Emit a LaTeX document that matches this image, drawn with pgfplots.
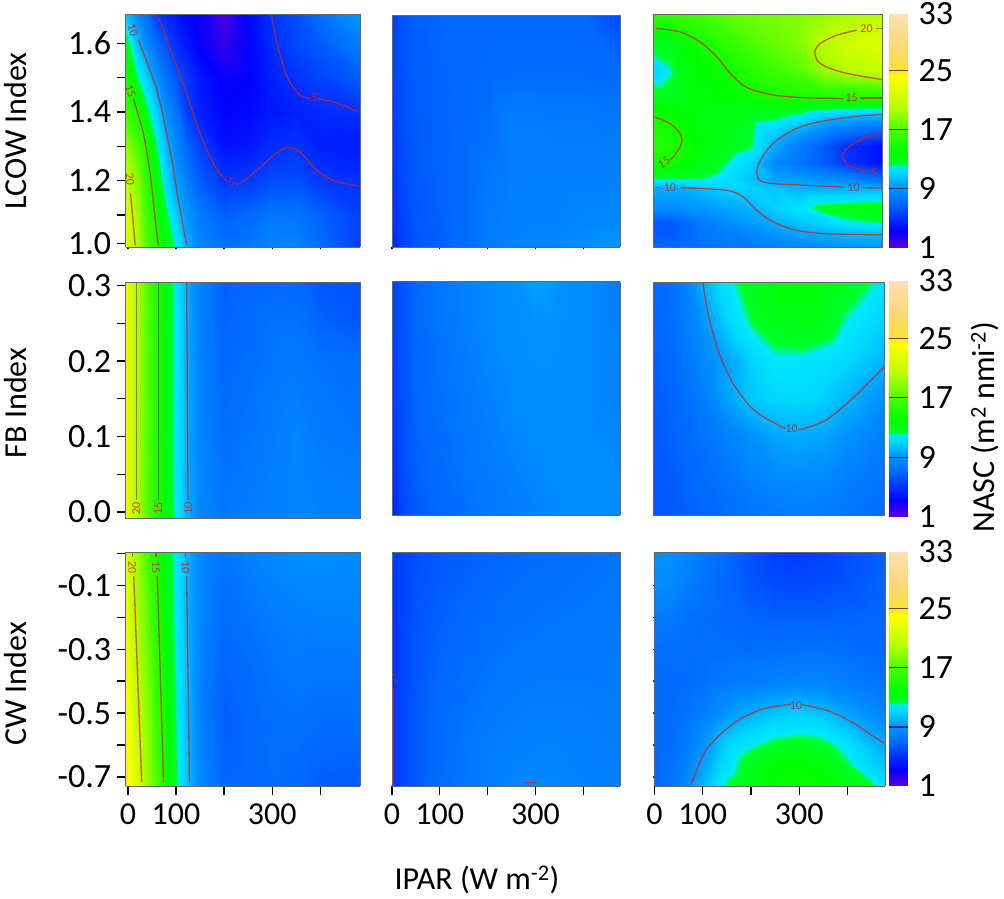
\documentclass[border=0pt]{standalone}
\usepackage{fontspec}
\setmainfont{Carlito}
\usepackage{pgfplots}
\usepackage{pgfplotstable}
\pgfplotsset{compat=1.18}
\definecolor{ctc}{RGB}{205,35,35}
\pgfplotsset{
 colormap={nasc}{rgb255(10)=(95,0,215) rgb255(32)=(0,0,255) rgb255(50)=(0,50,255) rgb255(70)=(0,105,255) rgb255(90)=(0,145,255) rgb255(100)=(0,175,255) rgb255(111)=(0,215,255) rgb255(120)=(0,232,255) rgb255(124)=(0,255,40) rgb255(140)=(0,255,0) rgb255(166)=(60,255,0) rgb255(200)=(180,255,0) rgb255(242)=(255,255,0) rgb255(250)=(255,225,50) rgb255(280)=(255,215,110) rgb255(330)=(250,225,185)},
 hm/.style={scale only axis,anchor=south west,view={0}{90},colormap name=nasc,point meta min=1,point meta max=33,axis line style={draw=black!60,line width=.6pt},tick style={black,line width=1.3pt},tick align=outside,major tick length=9pt,xtick pos=bottom,ytick pos=left,xticklabel style={font=\fontsize{32}{36}\selectfont,yshift=-5pt},yticklabel style={font=\fontsize{34}{38}\selectfont,xshift=-2pt},xtick={0,100,200,300,400},xticklabels={},ytick=\empty,xtick=\empty},
 xt/.style={xtick={0,100,200,300,400},xticklabels={0,100,,300,}},
 map/.style={surf,shader=interp,mesh/ordering=x varies},
 ct/.style={no markers,smooth,color=ctc,opacity=.75,line width=1.3pt},
 cb/.style={hm,width=19pt,hide x axis,axis line style={draw=none},major tick length=0pt,xmin=0,xmax=1,ymin=1,ymax=32.7,ytick={1,9,17,25,32.7},yticklabels={1,9,17,25,33},ytick pos=right,yticklabel pos=right,yticklabel style={xshift=9pt}},
 ctk/.style={no markers,color=black,opacity=.65,line width=1.2pt},
}
\tikzset{ctl/.style={text=ctc,text opacity=.85,font=\fontsize{12}{13}\selectfont,inner sep=0pt}}
\pgfplotstableread{
x y z
0 1 1
1 1 1
0 3.2 3.2
1 3.2 3.2
0 5 5
1 5 5
0 7 7
1 7 7
0 9 9
1 9 9
0 10 10
1 10 10
0 11.1 11.1
1 11.1 11.1
0 12 12
1 12 12
0 12.4 12.4
1 12.4 12.4
0 14 14
1 14 14
0 16.6 16.6
1 16.6 16.6
0 20 20
1 20 20
0 24.2 24.2
1 24.2 24.2
0 25 25
1 25 25
0 28 28
1 28 28
0 32.7 32.7
1 32.7 32.7
}\cbdata
\begin{document}
\begin{tikzpicture}[x=1pt,y=1pt]
\useasboundingbox (0,0) rectangle (1004,899);
% ---- row 1 col 1
\begin{axis}[hm,at={(125.6pt,651.5pt)},width=234.5pt,height=233.5pt,xmin=-5,xmax=483,ymin=1.005,ymax=1.685,
 ytick={1.0167,1.1,1.2,1.3,1.4,1.5,1.6},yticklabels={1.0,,1.2,,1.4,,1.6},xtick={0,100,200,300,400},xtick style={/pgfplots/major tick length=2pt}]
\addplot3[map,mesh/cols=14] coordinates {
(-5,1.685,10.5)(20,1.685,8.5)(40,1.685,7)(60,1.685,5.2)(80,1.685,4.5)(100,1.685,4)(120,1.685,3.5)(150,1.685,3)(200,1.685,1.5)(250,1.685,3.5)(300,1.685,5)(350,1.685,6)(400,1.685,7.5)(483,1.685,9.5)
(-5,1.6,13)(20,1.6,10.2)(40,1.6,8.5)(60,1.6,7)(80,1.6,6)(100,1.6,4.8)(120,1.6,4)(150,1.6,3)(200,1.6,2)(250,1.6,3.2)(300,1.6,4.8)(350,1.6,5.8)(400,1.6,6.5)(483,1.6,8)
(-5,1.5,15)(20,1.5,12.2)(40,1.5,11)(60,1.5,9)(80,1.5,7.5)(100,1.5,6.2)(120,1.5,5.2)(150,1.5,4)(200,1.5,3)(250,1.5,3.2)(300,1.5,4.4)(350,1.5,5)(400,1.5,5.6)(483,1.5,6.5)
(-5,1.4,16.5)(20,1.4,15)(40,1.4,12.6)(60,1.4,10.8)(80,1.4,9)(100,1.4,7.5)(120,1.4,5.5)(150,1.4,4.3)(200,1.4,3.3)(250,1.4,3.5)(300,1.4,4)(350,1.4,4.4)(400,1.4,4.7)(483,1.4,5)
(-5,1.3,19)(20,1.3,17)(40,1.3,15)(60,1.3,12.2)(80,1.3,10.3)(100,1.3,8.5)(120,1.3,7)(150,1.3,5.5)(200,1.3,3.8)(250,1.3,4)(300,1.3,4.8)(350,1.3,5)(400,1.3,4.3)(483,1.3,4.2)
(-5,1.2,20.5)(20,1.2,18.5)(40,1.2,15.8)(60,1.2,13.5)(80,1.2,11.2)(100,1.2,9.5)(120,1.2,8.2)(150,1.2,6.5)(200,1.2,5.1)(250,1.2,5.3)(300,1.2,5.9)(350,1.2,6)(400,1.2,5.3)(483,1.2,4.9)
(-5,1.1,22)(20,1.1,19.2)(40,1.1,16.5)(60,1.1,14.5)(80,1.1,12.6)(100,1.1,10.8)(120,1.1,9.3)(150,1.1,7.8)(200,1.1,6.6)(250,1.1,7)(300,1.1,7.6)(350,1.1,7.6)(400,1.1,6.8)(483,1.1,5.5)
(-5,1.005,22.5)(20,1.005,19.6)(40,1.005,17)(60,1.005,15.2)(80,1.005,13.4)(100,1.005,12)(120,1.005,10.2)(150,1.005,8.5)(200,1.005,7.5)(250,1.005,7.8)(300,1.005,8.5)(350,1.005,8.4)(400,1.005,7.2)(483,1.005,5.5)
};
\addplot3[ct] coordinates {(63,1.677,33)(94,1.56,33)(122,1.453,33)(150,1.337,33)(178,1.249,33)(205,1.198,33)};
\addplot3[ct] coordinates {(222,1.193,33)(233,1.191,33)(268,1.23,33)(303,1.273,33)(331,1.296,33)(358,1.283,33)(393,1.23,33)(428,1.2,33)(480,1.184,33)};
\addplot3[ct] coordinates {(299,1.682,33)(310,1.6,33)(331,1.502,33)(358,1.448,33)(380,1.44,33)};
\addplot3[ct] coordinates {(396,1.438,33)(428,1.429,33)(480,1.4,33)};
\addplot3[ct] coordinates {(21.5,1.609,33)(60,1.463,33)(87.5,1.288,33)(105,1.142,33)(122,1.011,33)};
\addplot3[ct] coordinates {(11,1.439,33)(32,1.337,33)(46,1.22,33)(56,1.094,33)(63,1.011,33)};
\addplot3[ct] coordinates {(5.5,1.162,33)(15,1.011,33)};
\node[ctl,rotate=-72] at (axis cs:10,1.638,33) {10};
\node[ctl,rotate=-72] at (axis cs:5,1.46,33) {15};
\node[ctl,rotate=-85] at (axis cs:4,1.205,33) {20};
\node[ctl] at (axis cs:215,1.195,33) {5};
\node[ctl] at (axis cs:388,1.44,33) {5};
\end{axis}
% ---- row 1 col 2
\begin{axis}[hm,at={(392pt,651.5pt)},width=228pt,height=232pt,xmin=0,xmax=477,ymin=1.005,ymax=1.68,xtick={0,100,200,300,400},xtick style={/pgfplots/major tick length=2pt}]
\addplot3[map,mesh/cols=11] coordinates {
(0,1.685,5.5)(25,1.685,6.3)(50,1.685,6.6)(100,1.685,6.9)(150,1.685,7)(200,1.685,7)(250,1.685,7)(300,1.685,7)(350,1.685,7)(400,1.685,6.9)(477,1.685,5.8)
(0,1.5,5.5)(25,1.5,6.2)(50,1.5,6.6)(100,1.5,6.8)(150,1.5,7)(200,1.5,7.1)(250,1.5,7.2)(300,1.5,7.2)(350,1.5,7.2)(400,1.5,7.2)(477,1.5,7.2)
(0,1.38,5.3)(25,1.38,6.1)(50,1.38,6.5)(100,1.38,6.8)(150,1.38,7)(200,1.38,7.3)(250,1.38,8)(300,1.38,8)(350,1.38,7.9)(400,1.38,7.9)(477,1.38,7.7)
(0,1.2,5.2)(25,1.2,5.9)(50,1.2,6.4)(100,1.2,6.8)(150,1.2,7)(200,1.2,7.7)(250,1.2,8.1)(300,1.2,8.2)(350,1.2,8.2)(400,1.2,8.2)(477,1.2,8.2)
(0,1.08,5)(25,1.08,5.7)(50,1.08,6.3)(100,1.08,6.7)(150,1.08,7.1)(200,1.08,7.9)(250,1.08,8.2)(300,1.08,8.3)(350,1.08,8.3)(400,1.08,8.5)(477,1.08,8.6)
(0,1.005,4.5)(25,1.005,5.5)(50,1.005,6.2)(100,1.005,6.6)(150,1.005,7.2)(200,1.005,7.9)(250,1.005,8.3)(300,1.005,8.4)(350,1.005,8.5)(400,1.005,9)(477,1.005,9.2)
};
\end{axis}
% ---- row 1 col 3
\begin{axis}[hm,at={(653.3pt,651.5pt)},width=229.2pt,height=233.5pt,xmin=-2.5,xmax=472,ymin=1.005,ymax=1.685]
\addplot3[map,mesh/cols=11] coordinates {
(-3,1.685,15.8)(30,1.685,16)(60,1.685,16.3)(100,1.685,16.8)(150,1.685,17.5)(200,1.685,18)(250,1.685,18.2)(300,1.685,18.5)(350,1.685,19)(400,1.685,19.5)(480,1.685,20)
(-3,1.6,12.8)(30,1.6,13)(60,1.6,14)(100,1.6,14.9)(150,1.6,16)(200,1.6,17)(250,1.6,17.8)(300,1.6,18.5)(350,1.6,20.2)(400,1.6,21.5)(480,1.6,22.5)
(-3,1.52,11.3)(30,1.52,12)(60,1.52,13.5)(100,1.52,14)(150,1.52,14.5)(200,1.52,15.6)(250,1.52,16.5)(300,1.52,17.3)(350,1.52,19.2)(400,1.52,20.2)(480,1.52,21)
(-3,1.44,13)(30,1.44,13)(60,1.44,13.5)(100,1.44,13.6)(150,1.44,14)(200,1.44,14.4)(250,1.44,14.9)(300,1.44,15)(350,1.44,15)(400,1.44,15)(480,1.44,15)
(-3,1.385,15)(30,1.385,14.5)(60,1.385,14)(100,1.385,13.5)(150,1.385,13.2)(200,1.385,12.7)(250,1.385,12.5)(300,1.385,11.7)(350,1.385,10.5)(400,1.385,10.2)(480,1.385,9.9)
(-3,1.3,15.5)(30,1.3,15.3)(60,1.3,14.8)(100,1.3,13.8)(150,1.3,13)(200,1.3,12.4)(250,1.3,9.8)(300,1.3,8)(350,1.3,6.5)(400,1.3,4.9)(480,1.3,3.5)
(-3,1.25,14.7)(30,1.25,14.8)(60,1.25,14.3)(100,1.25,13.2)(150,1.25,12.2)(200,1.25,11)(250,1.25,8.5)(300,1.25,7.5)(350,1.25,6.5)(400,1.25,5)(480,1.25,3.7)
(-3,1.205,12.2)(30,1.205,12.2)(60,1.205,12.2)(100,1.205,12.2)(150,1.205,11.6)(200,1.205,10.4)(250,1.205,9.6)(300,1.205,9.5)(350,1.205,9)(400,1.205,8.5)(480,1.205,7)
(-3,1.178,10)(30,1.178,10)(60,1.178,10)(100,1.178,10.6)(150,1.178,11)(200,1.178,11)(250,1.178,10.6)(300,1.178,10.1)(350,1.178,10)(400,1.178,10)(480,1.178,10)
(-3,1.12,8.8)(30,1.12,8.8)(60,1.12,9)(100,1.12,9.2)(150,1.12,9.7)(200,1.12,10.1)(250,1.12,11)(300,1.12,11.6)(350,1.12,12.8)(400,1.12,13)(480,1.12,13.3)
(-3,1.08,6.5)(30,1.08,6.3)(60,1.08,6.8)(100,1.08,8)(150,1.08,8.8)(200,1.08,9.5)(250,1.08,10)(300,1.08,10.7)(350,1.08,11.2)(400,1.08,12)(480,1.08,12.4)
(-3,1.05,6.5)(30,1.05,6.4)(60,1.05,6.9)(100,1.05,7.7)(150,1.05,8.2)(200,1.05,8.7)(250,1.05,9.3)(300,1.05,9.8)(350,1.05,10.1)(400,1.05,10.5)(480,1.05,10.6)
(-3,1.005,7)(30,1.005,7)(60,1.005,7.2)(100,1.005,7.4)(150,1.005,7.6)(200,1.005,7.8)(250,1.005,8.2)(300,1.005,8.6)(350,1.005,8.9)(400,1.005,9.1)(480,1.005,9.2)
};
\addplot3[ct] coordinates {(3,1.643,33)(53,1.633,33)(94,1.604,33)(129,1.56,33)(157,1.512,33)(191,1.471,33)(246,1.449,33)(315,1.441,33)(391,1.439,33)};
\addplot3[ct] coordinates {(425,1.44,33)(471,1.44,33)};
\addplot3[ct] coordinates {(419,1.638,33)(377,1.623,33)(343,1.599,33)(332,1.575,33)(339,1.546,33)(364,1.526,33)(405,1.51,33)(471,1.494,33)};
\addplot3[ct] coordinates {(459,1.643,33)(471,1.643,33)};
\addplot3[ct] coordinates {(1,1.385,33)(32,1.366,33)(53,1.337,33)(56,1.308,33)(42,1.274,33)(32,1.26,33)};
\addplot3[ct] coordinates {(471,1.393,33)(419,1.387,33)(357,1.375,33)(301,1.356,33)(253,1.317,33)(225,1.273,33)(212,1.23,33)(218,1.2,33)(246,1.191,33)(315,1.186,33)(391,1.181,33)};
\addplot3[ct] coordinates {(432,1.179,33)(471,1.178,33)};
\addplot3[ct] coordinates {(3,1.179,33)(11,1.179,33)};
\addplot3[ct] coordinates {(53,1.179,33)(108,1.176,33)(156,1.17,33)(184,1.152,33)(212,1.113,33)(246,1.079,33)(294,1.055,33)(357,1.045,33)(471,1.042,33)};
\addplot3[ct] coordinates {(471,1.339,33)(433,1.322,33)(402,1.298,33)(389,1.269,33)(402,1.244,33)(433,1.23,33)(445,1.226,33)};
\node[ctl] at (axis cs:439,1.642,33) {20};
\node[ctl] at (axis cs:408,1.44,33) {15};
\node[ctl,rotate=32] at (axis cs:19.5,1.252,33) {15};
\node[ctl] at (axis cs:412,1.18,33) {10};
\node[ctl] at (axis cs:32,1.179,33) {10};
\node[ctl] at (axis cs:455,1.222,33) {5};
\end{axis}
\begin{axis}[cb,at={(889pt,651.3pt)},height=233.7pt]
\addplot3[map,mesh/cols=2] table[x=x,y=y,z=z]{\cbdata};
\addplot3[ctk] coordinates {(0,9,33)(1,9,33)};
\addplot3[ctk] coordinates {(0,17,33)(1,17,33)};
\addplot3[ctk] coordinates {(0,25,33)(1,25,33)};
\end{axis}
% ---- row 2 col 1
\begin{axis}[hm,at={(125.6pt,380.3pt)},width=234.5pt,height=236.7pt,xmin=-5,xmax=483,ymin=-.009,ymax=.305,
 ytick={0,.05,.1,.15,.2,.25,.3},yticklabels={0.0,,0.1,,0.2,,0.3}]
\addplot3[map,mesh/cols=13] coordinates {
(-5,.305,23)(17,.305,20)(40,.305,17.3)(63,.305,15)(94,.305,12.2)(122,.305,10)(150,.305,8.2)(200,.305,6.6)(250,.305,6.8)(300,.305,7)(350,.305,7.1)(400,.305,6.4)(483,.305,6.2)
(-5,.25,23)(17,.25,20)(40,.25,17.3)(63,.25,15)(94,.25,12.2)(122,.25,10)(150,.25,8.2)(200,.25,6.8)(250,.25,7.2)(300,.25,7.5)(350,.25,7.5)(400,.25,6.8)(483,.25,6.3)
(-5,.2,23)(17,.2,20)(40,.2,17.3)(63,.2,15)(94,.2,12.2)(122,.2,10)(150,.2,8.2)(200,.2,7)(250,.2,7.3)(300,.2,7.6)(350,.2,7.8)(400,.2,7.5)(483,.2,7.2)
(-5,.1,23)(17,.1,20)(40,.1,17.3)(63,.1,15)(94,.1,12.2)(122,.1,10)(150,.1,8.3)(200,.1,7.3)(250,.1,7.6)(300,.1,8)(350,.1,8.4)(400,.1,7.9)(483,.1,7.6)
(-5,.05,23)(17,.05,20)(40,.05,17.3)(63,.05,15)(94,.05,12.2)(122,.05,10)(150,.05,8.4)(200,.05,7.5)(250,.05,7.8)(300,.05,8.1)(350,.05,8.4)(400,.05,8.1)(483,.05,8)
(-5,-.009,23)(17,-.009,20)(40,-.009,17.3)(63,-.009,15)(94,-.009,12.4)(122,-.009,10.2)(150,-.009,8.5)(200,-.009,7.7)(250,-.009,8)(300,-.009,8.2)(350,-.009,8.4)(400,-.009,8.3)(483,-.009,8.3)
};
\addplot3[ct] coordinates {(17,.305,33)(17,.016,33)};
\addplot3[ct] coordinates {(63,.305,33)(63,.016,33)};
\addplot3[ct] coordinates {(122,.305,33)(125,.016,33)};
\node[ctl,rotate=90] at (axis cs:17,.005,33) {20};
\node[ctl,rotate=90] at (axis cs:63,.005,33) {15};
\node[ctl,rotate=90] at (axis cs:125,.005,33) {10};
\end{axis}
% ---- row 2 col 2
\begin{axis}[hm,at={(392pt,384pt)},width=228pt,height=233.3pt,xmin=0,xmax=477,ymin=-.009,ymax=.305]
\addplot3[map,mesh/cols=11] coordinates {
(0,.305,5.5)(25,.305,6.3)(50,.305,7)(100,.305,7.7)(150,.305,8.2)(200,.305,8.6)(250,.305,8.9)(300,.305,9.5)(350,.305,9)(400,.305,8.7)(477,.305,8)
(0,.25,5.5)(25,.25,6.3)(50,.25,7)(100,.25,7.6)(150,.25,8.1)(200,.25,8.6)(250,.25,8.8)(300,.25,9)(350,.25,8.9)(400,.25,8.7)(477,.25,8)
(0,.15,5.3)(25,.15,6.2)(50,.15,6.9)(100,.15,7.4)(150,.15,7.8)(200,.15,8.2)(250,.15,8.7)(300,.15,8.8)(350,.15,8.8)(400,.15,8.7)(477,.15,8.1)
(0,.05,5)(25,.05,6)(50,.05,6.7)(100,.05,7.1)(150,.05,7.6)(200,.05,7.9)(250,.05,8.2)(300,.05,8.6)(350,.05,8.8)(400,.05,8.8)(477,.05,8.6)
(0,-.009,4.5)(25,-.009,5.8)(50,-.009,6.5)(100,-.009,7)(150,-.009,7.3)(200,-.009,7.8)(250,-.009,8)(300,-.009,8.2)(350,-.009,8.6)(400,-.009,8.8)(477,-.009,8.8)
};
\end{axis}
% ---- row 2 col 3
\begin{axis}[hm,at={(653.3pt,383.3pt)},width=231.2pt,height=233.4pt,xmin=-2.5,xmax=478,ymin=-.0053,ymax=.305]
\addplot3[map,mesh/cols=12] coordinates {
(-3,.305,7)(30,.305,7.3)(60,.305,8)(100,.305,10)(150,.305,11.8)(200,.305,13)(250,.305,13.5)(300,.305,13.8)(350,.305,13.5)(400,.305,13)(450,.305,12.3)(480,.305,11.2)
(-3,.25,6.8)(30,.25,7.2)(60,.25,7.8)(100,.25,9.2)(150,.25,11)(200,.25,12.3)(250,.25,13)(300,.25,13.3)(350,.25,13)(400,.25,12)(450,.25,11.3)(480,.25,10.8)
(-3,.2,6.7)(30,.2,7)(60,.2,7.5)(100,.2,8.5)(150,.2,9.6)(200,.2,11)(250,.2,11.9)(300,.2,11.9)(350,.2,11.6)(400,.2,11.2)(450,.2,10.5)(480,.2,10.2)
(-3,.15,6.5)(30,.15,6.8)(60,.15,7.2)(100,.15,8)(150,.15,9.6)(200,.15,10.7)(250,.15,11.1)(300,.15,11.2)(350,.15,10.9)(400,.15,10.2)(450,.15,9.3)(480,.15,8.9)
(-3,.1,6.4)(30,.1,6.7)(60,.1,7)(100,.1,7.5)(150,.1,8.2)(200,.1,9)(250,.1,9.7)(300,.1,9.9)(350,.1,9.7)(400,.1,9)(450,.1,8.4)(480,.1,8.1)
(-3,.05,6.3)(30,.05,6.5)(60,.05,6.8)(100,.05,7.2)(150,.05,7.7)(200,.05,8.3)(250,.05,8.7)(300,.05,8.9)(350,.05,8.7)(400,.05,8.2)(450,.05,7.8)(480,.05,7.6)
(-3,-.009,6.2)(30,-.009,6.4)(60,-.009,6.6)(100,-.009,6.9)(150,-.009,7.2)(200,-.009,7.5)(250,-.009,7.8)(300,-.009,8)(350,-.009,7.9)(400,-.009,7.6)(450,-.009,7.2)(480,-.009,7)
};
\addplot3[ct] coordinates {(101,.304,33)(111,.264,33)(132,.215,33)(163,.171,33)(205,.136,33)(263,.113,33)(271,.112,33)};
\addplot3[ct] coordinates {(300,.11,33)(308,.11,33)(357,.122,33)(412,.151,33)(478,.193,33)};
\node[ctl] at (axis cs:285,.11,33) {10};
\end{axis}
\begin{axis}[cb,at={(889pt,382.3pt)},height=235.7pt]
\addplot3[map,mesh/cols=2] table[x=x,y=y,z=z]{\cbdata};
\addplot3[ctk] coordinates {(0,9,33)(1,9,33)};
\addplot3[ctk] coordinates {(0,17,33)(1,17,33)};
\addplot3[ctk] coordinates {(0,25,33)(1,25,33)};
\end{axis}
% ---- row 3 col 1
\begin{axis}[hm,xt,at={(125.6pt,113pt)},width=234.5pt,height=233.7pt,xmin=-5,xmax=483,ymin=-.728,ymax=.003,
 ytick={-.7,-.6,-.5,-.4,-.3,-.2,-.1,0},yticklabels={-0.7,,-0.5,,-0.3,,-0.1,}]
\addplot3[map,mesh/cols=14] coordinates {
(-5,.003,22.5)(15,.003,19.7)(40,.003,17)(60,.003,15)(75,.003,13.8)(94,.003,12.2)(125,.003,10)(150,.003,8.5)(200,.003,7.6)(250,.003,8.2)(300,.003,8.6)(350,.003,8.8)(400,.003,8.8)(483,.003,8.6)
(-5,-.2,23)(15,-.2,20)(40,-.2,17.8)(60,-.2,15.4)(75,-.2,14)(94,-.2,12.3)(125,-.2,10)(150,-.2,8.4)(200,-.2,7.2)(250,-.2,7.5)(300,-.2,8)(350,-.2,8.2)(400,-.2,8.3)(483,-.2,8.3)
(-5,-.33,23.5)(15,-.33,20.5)(40,-.33,18.2)(60,-.33,15.7)(75,-.33,14.2)(94,-.33,12.5)(125,-.33,10.1)(150,-.33,8.3)(200,-.33,6.9)(250,-.33,7.2)(300,-.33,7.6)(350,-.33,7.9)(400,-.33,7.8)(483,-.33,7.8)
(-5,-.5,24)(15,-.5,21.2)(40,-.5,18.8)(60,-.5,16.2)(75,-.5,14.8)(94,-.5,12.7)(125,-.5,10.2)(150,-.5,8.2)(200,-.5,6.6)(250,-.5,7)(300,-.5,7.4)(350,-.5,7.5)(400,-.5,7.3)(483,-.5,7.3)
(-5,-.728,25)(15,-.728,22.5)(40,-.728,19.2)(60,-.728,17)(75,-.728,15.1)(94,-.728,13)(125,-.728,10.4)(150,-.728,8.5)(200,-.728,6.9)(250,-.728,7)(300,-.728,7.2)(350,-.728,7)(400,-.728,6.6)(483,-.728,6.5)
};
\addplot3[ct] coordinates {(12,-.072,33)(28.5,-.716,33)};
\addplot3[ct] coordinates {(61,-.072,33)(74,-.716,33)};
\addplot3[ct] coordinates {(122,-.072,33)(128,-.716,33)};
\addplot3[ct] coordinates {(9,.003,33)(9,-.012,33)};
\addplot3[ct] coordinates {(58,.003,33)(58,-.012,33)};
\addplot3[ct] coordinates {(120,.003,33)(120,-.012,33)};
\node[ctl,rotate=-90] at (axis cs:9,-.044,33) {20};
\node[ctl,rotate=-90] at (axis cs:58,-.044,33) {15};
\node[ctl,rotate=-90] at (axis cs:120,-.044,33) {10};
\end{axis}
% ---- row 3 col 2
\begin{axis}[hm,xt,at={(392pt,113pt)},width=228pt,height=233.7pt,xmin=0,xmax=477,ymin=-.728,ymax=.003]
\addplot3[map,mesh/cols=11] coordinates {
(0,.003,5.3)(25,.003,5.6)(50,.003,6)(100,.003,6.4)(150,.003,6.6)(200,.003,6.8)(250,.003,7)(300,.003,7.1)(350,.003,7.2)(400,.003,7.4)(477,.003,7.6)
(0,-.15,5.2)(25,-.15,5.7)(50,-.15,6.2)(100,-.15,6.6)(150,-.15,6.9)(200,-.15,7.1)(250,-.15,7.3)(300,-.15,7.4)(350,-.15,7.5)(400,-.15,7.6)(477,-.15,7.7)
(0,-.3,5.1)(25,-.3,5.7)(50,-.3,6.3)(100,-.3,6.8)(150,-.3,7.1)(200,-.3,7.4)(250,-.3,7.6)(300,-.3,7.7)(350,-.3,7.8)(400,-.3,7.8)(477,-.3,7.8)
(0,-.45,5)(25,-.45,5.8)(50,-.45,6.4)(100,-.45,7)(150,-.45,7.4)(200,-.45,7.7)(250,-.45,7.9)(300,-.45,8)(350,-.45,8)(400,-.45,8)(477,-.45,7.9)
(0,-.6,5)(25,-.6,5.8)(50,-.6,6.5)(100,-.6,7.1)(150,-.6,7.6)(200,-.6,8)(250,-.6,8.2)(300,-.6,8.3)(350,-.6,8.3)(400,-.6,8.2)(477,-.6,8)
(0,-.728,5)(25,-.728,5.8)(50,-.728,6.5)(100,-.728,7.2)(150,-.728,7.7)(200,-.728,8.1)(250,-.728,8.4)(300,-.728,8.5)(350,-.728,8.5)(400,-.728,8.3)(477,-.728,8.1)
};
\addplot3[ct] coordinates {(3,-.374,33)(3,-.385,33)};
\addplot3[ct] coordinates {(3,-.42,33)(3,-.728,33)};
\addplot3[ct] coordinates {(277,-.718,33)(302,-.718,33)};
\node[ctl,font=\fontsize{7}{8}\selectfont] at (axis cs:8,-.4,33) {5};
\end{axis}
% ---- row 3 col 3
\begin{axis}[hm,xt,at={(654.6pt,113pt)},width=230.4pt,height=233.7pt,xmin=0,xmax=478,ymin=-.728,ymax=.003,ytick={-.7,-.6,-.5,-.4,-.3,-.2,-.1},yticklabels={},ytick style={/pgfplots/major tick length=2pt}]
\addplot3[map,mesh/cols=12] coordinates {
(-3,.003,9)(30,.003,9)(60,.003,8.6)(100,.003,7.8)(150,.003,7)(200,.003,6)(250,.003,5.4)(300,.003,5.3)(350,.003,5.5)(400,.003,6)(450,.003,6.4)(480,.003,6.8)
(-3,-.1,8.8)(30,-.1,8.7)(60,-.1,8.1)(100,-.1,7.5)(150,-.1,6.9)(200,-.1,6.3)(250,-.1,5.9)(300,-.1,5.8)(350,-.1,6)(400,-.1,6.2)(450,-.1,6.6)(480,-.1,6.9)
(-3,-.2,8)(30,-.2,7.8)(60,-.2,7.4)(100,-.2,7.2)(150,-.2,7)(200,-.2,6.8)(250,-.2,6.7)(300,-.2,6.7)(350,-.2,6.7)(400,-.2,6.8)(450,-.2,6.9)(480,-.2,6.9)
(-3,-.3,7.3)(30,-.3,7.3)(60,-.3,7.3)(100,-.3,7.3)(150,-.3,7.3)(200,-.3,7.2)(250,-.3,7.3)(300,-.3,7.4)(350,-.3,7.4)(400,-.3,7.3)(450,-.3,7)(480,-.3,6.9)
(-3,-.4,7)(30,-.4,7.1)(60,-.4,7.2)(100,-.4,7.4)(150,-.4,7.8)(200,-.4,8)(250,-.4,8.2)(300,-.4,8.4)(350,-.4,8.4)(400,-.4,8)(450,-.4,7.6)(480,-.4,7.4)
(-3,-.5,6.9)(30,-.5,7.1)(60,-.5,7.4)(100,-.5,8)(150,-.5,9.2)(200,-.5,10)(250,-.5,10.6)(300,-.5,10.9)(350,-.5,10.5)(400,-.5,9.6)(450,-.5,8.8)(480,-.5,8.4)
(-3,-.6,6.9)(30,-.6,7.2)(60,-.6,7.8)(100,-.6,9)(150,-.6,11.1)(200,-.6,12)(250,-.6,12.6)(300,-.6,12.8)(350,-.6,12.6)(400,-.6,11.7)(450,-.6,10.3)(480,-.6,9.8)
(-3,-.66,6.9)(30,-.66,7.4)(60,-.66,8)(100,-.66,9.6)(150,-.66,11.6)(200,-.66,13)(250,-.66,13.8)(300,-.66,14)(350,-.66,13.6)(400,-.66,12.4)(450,-.66,11)(480,-.66,10.5)
(-3,-.728,7)(30,-.728,7.5)(60,-.728,8.4)(100,-.728,10.3)(150,-.728,12.4)(200,-.728,13.2)(250,-.728,14.3)(300,-.728,14.5)(350,-.728,14.2)(400,-.728,13.4)(450,-.728,12.5)(480,-.728,11.3)
};
\addplot3[ct] coordinates {(77,-.719,33)(103,-.625,33)(132,-.573,33)(174,-.522,33)(224,-.487,33)(275,-.474,33)(282,-.474,33)};
\addplot3[ct] coordinates {(305,-.475,33)(313,-.476,33)(359,-.492,33)(409,-.528,33)(451,-.57,33)(476,-.594,33)};
\node[ctl] at (axis cs:293,-.478,33) {10};
\end{axis}
\begin{axis}[cb,at={(889pt,113pt)},height=234pt]
\addplot3[map,mesh/cols=2] table[x=x,y=y,z=z]{\cbdata};
\addplot3[ctk] coordinates {(0,9,33)(1,9,33)};
\addplot3[ctk] coordinates {(0,17,33)(1,17,33)};
\addplot3[ctk] coordinates {(0,25,33)(1,25,33)};
\end{axis}
% ---- labels
\tikzset{lab/.style={font=\fontsize{32}{36}\selectfont,inner sep=0pt}}
\node[lab,rotate=90] at (16,768) {LCOW Index};
\node[lab,rotate=90] at (16,496) {FB Index};
\node[lab,rotate=90] at (15,215) {CW Index};
\node[lab,rotate=90] at (985,472) {NASC (m\textsuperscript{2} nmi\textsuperscript{-2})};
\node[lab] at (477,19) {IPAR (W m\textsuperscript{-2})};
\end{tikzpicture}
\end{document}
